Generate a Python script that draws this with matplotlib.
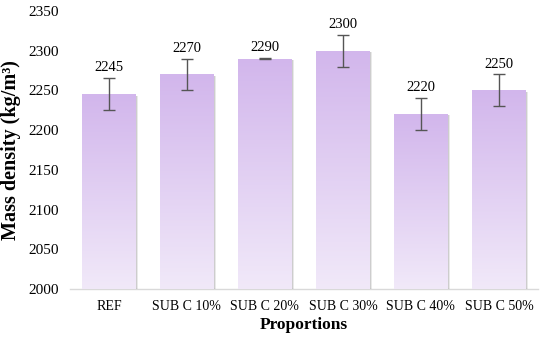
import numpy as np
import matplotlib
matplotlib.use("Agg")
import matplotlib.pyplot as plt
from matplotlib.colors import LinearSegmentedColormap
from matplotlib.patches import Rectangle

# ----------------------------
# DATA
# ----------------------------
categories = ["REF", "SUB C 10%", "SUB C 20%", "SUB C 30%", "SUB C 40%", "SUB C 50%"]
density = [2245, 2270, 2290, 2300, 2220, 2250]
errors = [20, 20, 1, 20, 20, 20]
y_ticks = [2000, 2050, 2100, 2150, 2200, 2250, 2300, 2350]

plt.rcParams["font.family"] = ["Liberation Serif", "DejaVu Serif"]

fig = plt.figure(figsize=(5.5, 3.41), dpi=100)
ax = fig.add_axes([0.127, 0.1525, 0.851, 0.8155])

x = np.arange(len(categories))
width = 0.68
ymin, ymax = 2000, 2350

cmap = LinearSegmentedColormap.from_list("purp", ["#f1e9f9", "#d2b6ec"])
grad = np.linspace(0, 1, 256).reshape(-1, 1)

for xi, v in zip(x, density):
    left = xi - width / 2
    # soft shadow to the right
    for k, a in enumerate([0.12, 0.18, 0.28]):
        off = 0.012 + 0.012 * (2 - k)
        ax.add_patch(Rectangle((left + off, ymin), width, v - ymin - 1.5,
                               facecolor="#505050", edgecolor="none",
                               alpha=a, zorder=1))
    bar = Rectangle((left, ymin), width, v - ymin, facecolor="none",
                    edgecolor="none", zorder=2)
    ax.add_patch(bar)
    im = ax.imshow(grad, extent=(left, left + width, ymin, v), origin="lower",
                   cmap=cmap, aspect="auto", zorder=2)
    im.set_clip_path(bar)

ax.errorbar(x, density, yerr=errors, fmt="none", ecolor="#555555",
            elinewidth=1, capsize=4, capthick=1, zorder=3)

for xi, v, e in zip(x, density, errors):
    ax.text(xi, v + e + 5, str(v), ha="center", va="bottom", fontsize=10.5)

ax.set_xlim(-0.5, len(categories) - 0.5)
ax.set_ylim(ymin, ymax)
ax.set_xticks(x)
ax.set_xticklabels(categories, fontsize=10)
ax.set_yticks(y_ticks)
ax.tick_params(axis="y", labelsize=11, length=0, pad=8)
ax.tick_params(axis="x", length=0, pad=8)

for s in ["top", "right", "left"]:
    ax.spines[s].set_visible(False)
ax.spines["bottom"].set_color("#d9d9d9")
ax.spines["bottom"].set_linewidth(1)
ax.spines["bottom"].set_zorder(0)

ax.set_ylabel("Mass density (kg/m³)", fontsize=14.5, fontweight="bold", labelpad=5)
ax.set_xlabel("Proportions", fontsize=12.5, fontweight="bold", labelpad=3)

fig.savefig("out.png", dpi=100)
